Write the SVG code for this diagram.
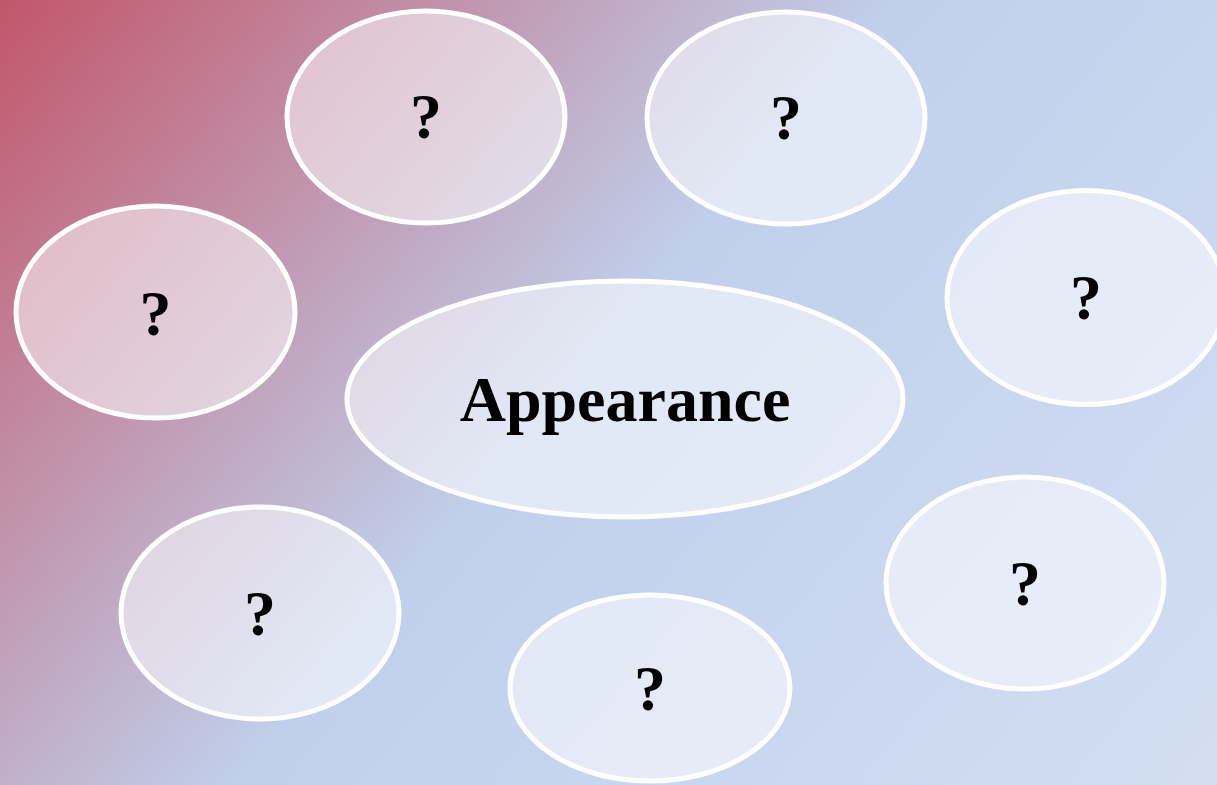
<svg xmlns="http://www.w3.org/2000/svg" width="1217" height="785" viewBox="0 0 1217 785">
<defs>
<linearGradient id="bg" gradientUnits="userSpaceOnUse" x1="0" y1="0" x2="1098" y2="926">
<stop offset="0" stop-color="#c2566a"/>
<stop offset="0.48" stop-color="#c0d0ec"/>
<stop offset="1" stop-color="#d3def2"/>
</linearGradient>
<style>
.n ellipse { fill: #ffffff; fill-opacity: 0.52; stroke: #ffffff; stroke-width: 5; }
.n text { font-family: "Liberation Serif", "Times New Roman", serif; font-weight: bold; font-size: 64px; fill: #000000; text-anchor: middle; }
</style>
</defs>
<rect x="0" y="0" width="1217" height="785" fill="url(#bg)"/>
<g id="connectors"></g>
<g id="center" class="n"><ellipse cx="625" cy="399" rx="278" ry="118"/><text x="625" y="421">Appearance</text></g>
<g id="n1" class="n"><ellipse cx="426" cy="117" rx="139" ry="106"/><text x="426" y="138">?</text></g>
<g id="n2" class="n"><ellipse cx="786" cy="118" rx="139" ry="106"/><text x="786" y="139">?</text></g>
<g id="n3" class="n"><ellipse cx="155.5" cy="312" rx="139.5" ry="106"/><text x="155.5" y="335">?</text></g>
<g id="n4" class="n"><ellipse cx="1086" cy="297.5" rx="139" ry="107"/><text x="1086" y="319">?</text></g>
<g id="n5" class="n"><ellipse cx="260" cy="613" rx="139" ry="106"/><text x="260" y="635">?</text></g>
<g id="n6" class="n"><ellipse cx="650" cy="688" rx="140" ry="93"/><text x="650" y="710">?</text></g>
<g id="n7" class="n"><ellipse cx="1025" cy="583" rx="139" ry="106"/><text x="1025" y="605">?</text></g>
</svg>
